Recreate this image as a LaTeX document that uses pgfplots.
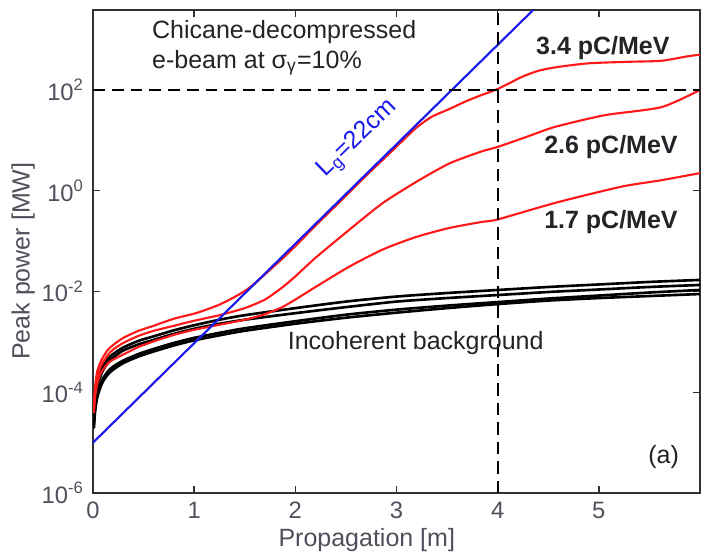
\documentclass[border=0pt]{standalone}
\usepackage{fontspec}
\setmainfont{Liberation Sans}
\usepackage{pgfplots}
\pgfplotsset{compat=1.18}

\definecolor{axisgray}{RGB}{50,50,50}
\definecolor{labelgray}{RGB}{80,80,92}
\definecolor{textdark}{RGB}{35,35,40}
\definecolor{curvered}{RGB}{255,25,25}
\definecolor{gainblue}{RGB}{25,25,235}

\begin{document}
\begin{tikzpicture}
\begin{axis}[
  scale only axis,
  width=242.8pt, height=193.2pt,
  at={(0,0)}, anchor=south west,
  xmin=0, xmax=6,
  ymode=log, ymin=1e-6, ymax=3870,
  xtick={0,1,2,3,4,5},
  ytick={1e-6,1e-4,1e-2,1,1e2},
  yticklabels={10\textsuperscript{-6},10\textsuperscript{-4},10\textsuperscript{-2},10\textsuperscript{0},10\textsuperscript{2}},
  yminorticks=false,
  /pgf/number format/assume math mode=true,
  tick align=inside,
  major tick length=2.8pt,
  axis line style={axisgray, line width=0.6pt},
  tick style={axisgray, line width=0.6pt},
  ticklabel style={labelgray, font=\fontsize{9.5}{11}\selectfont},
  label style={labelgray, font=\fontsize{10}{12}\selectfont},
  xlabel={Propagation [m]},
  ylabel={Peak power [MW]},
  xlabel style={at={(axis description cs:0.451,-0.097)}, anchor=center},
  ylabel style={at={(axis description cs:-0.115,0.48)}, anchor=center},
  every axis plot/.append style={line join=round, line cap=round},
  bg/.style={black, line width=1.05pt, smooth, tension=0.4},
  fel/.style={curvered, line width=0.85pt, smooth, tension=0.4},
]

% incoherent background (spontaneous emission)
\addplot[bg] coordinates {
(0.01,4.467e-5) (0.02,8.913e-5) (0.04,1.585e-4) (0.07,2.512e-4) (0.1,3.388e-4)
(0.15,4.677e-4) (0.2,5.754e-4) (0.3,7.762e-4) (0.45,1.047e-3) (0.6,1.288e-3)
(0.8,1.698e-3) (1.0,2.138e-3) (1.25,2.754e-3) (1.5,3.388e-3) (2.0,4.677e-3)
(2.5,6.310e-3) (3.0,7.943e-3) (3.5,9.333e-3) (4.0,1.072e-2) (4.5,1.230e-2)
(5.0,1.380e-2) (5.5,1.549e-2) (6.0,1.698e-2)};
\addplot[bg] coordinates {
(0.01,3.548e-5) (0.02,7.079e-5) (0.04,1.259e-4) (0.07,1.995e-4) (0.1,2.754e-4)
(0.15,3.890e-4) (0.2,4.898e-4) (0.3,6.761e-4) (0.45,8.913e-4) (0.6,1.096e-3)
(0.8,1.445e-3) (1.0,1.820e-3) (1.25,2.291e-3) (1.5,2.754e-3) (2.0,3.715e-3)
(2.5,4.898e-3) (3.0,6.310e-3) (3.5,7.413e-3) (4.0,8.511e-3) (4.5,9.772e-3)
(5.0,1.096e-2) (5.5,1.230e-2) (6.0,1.349e-2)};
\addplot[bg] coordinates {
(0.01,2.512e-5) (0.02,5.012e-5) (0.04,8.913e-5) (0.07,1.413e-4) (0.1,1.905e-4)
(0.15,2.630e-4) (0.2,3.236e-4) (0.3,4.266e-4) (0.45,5.754e-4) (0.6,7.244e-4)
(0.8,9.550e-4) (1.0,1.202e-3) (1.25,1.514e-3) (1.5,1.862e-3) (2.0,2.570e-3)
(2.5,3.467e-3) (3.0,4.365e-3) (3.5,5.248e-3) (4.0,6.166e-3) (4.5,7.244e-3)
(5.0,8.318e-3) (5.5,9.550e-3) (6.0,1.072e-2)};
\addplot[bg] coordinates {
(0.01,1.995e-5) (0.02,3.981e-5) (0.04,7.586e-5) (0.07,1.202e-4) (0.1,1.660e-4)
(0.15,2.291e-4) (0.2,2.818e-4) (0.3,3.802e-4) (0.45,5.129e-4) (0.6,6.457e-4)
(0.8,8.511e-4) (1.0,1.072e-3) (1.25,1.349e-3) (1.5,1.660e-3) (2.0,2.291e-3)
(2.5,3.020e-3) (3.0,3.802e-3) (3.5,4.677e-3) (4.0,5.623e-3) (4.5,6.607e-3)
(5.0,7.413e-3) (5.5,8.128e-3) (6.0,8.913e-3)};

% 3.4 pC/MeV
\addplot[fel] coordinates {
(0.01,6.310e-5) (0.02,1.259e-4) (0.04,2.512e-4) (0.07,3.802e-4) (0.1,5.012e-4)
(0.15,7.079e-4) (0.2,8.710e-4) (0.3,1.202e-3) (0.45,1.660e-3) (0.6,2.089e-3)
(0.8,2.884e-3) (1.0,3.631e-3) (1.12,4.365e-3) (1.25,5.495e-3) (1.38,7.413e-3)
(1.5,1.023e-2) (1.6,1.445e-2) (1.7,2.188e-2) (1.87,4.467e-2) (2.0,7.943e-2)
(2.2,2.042e-1) (2.46,6.607e-1) (2.7,1.995) (2.93,5.495) (3.19,17.38)
(3.35,29.51) (3.52,41.69) (3.68,58.88) (3.84,79.43) (4.0,104.7)
(4.24,182.0) (4.4,239.9) (4.57,281.8) (4.9,338.8) (5.3,363.1)
(5.62,380.2) (5.88,467.7) (6.0,501.2)};
% 2.6 pC/MeV
\addplot[fel] coordinates {
(0.01,5.012e-5) (0.02,1.0e-4) (0.04,1.905e-4) (0.07,3.020e-4) (0.1,3.981e-4)
(0.15,5.623e-4) (0.2,7.079e-4) (0.3,9.550e-4) (0.45,1.318e-3) (0.6,1.660e-3)
(0.8,2.089e-3) (1.0,2.630e-3) (1.25,3.388e-3) (1.5,4.677e-3) (1.7,6.918e-3)
(1.87,1.202e-2) (2.0,1.995e-2) (2.2,4.677e-2) (2.53,1.660e-1) (2.86,5.623e-1)
(3.19,1.479) (3.52,3.467) (3.84,6.026) (4.0,7.413) (4.3,12.02)
(4.57,18.62) (5.06,31.62) (5.62,45.71) (6.0,100)};
% 1.7 pC/MeV
\addplot[fel] coordinates {
(0.01,3.981e-5) (0.02,7.943e-5) (0.04,1.413e-4) (0.07,2.239e-4) (0.1,2.818e-4)
(0.15,3.802e-4) (0.2,4.467e-4) (0.3,5.623e-4) (0.45,7.943e-4) (0.6,1.023e-3)
(0.8,1.380e-3) (1.0,1.738e-3) (1.25,2.188e-3) (1.5,2.754e-3) (1.7,3.548e-3)
(1.87,4.898e-3) (2.0,6.918e-3) (2.2,1.230e-2) (2.53,3.090e-2) (2.86,6.761e-2)
(3.19,1.202e-1) (3.52,1.820e-1) (3.84,2.399e-1) (4.0,2.692e-1) (4.57,5.754e-1)
(5.22,1.202) (5.62,1.622) (6.0,2.239)};

% exponential gain, L_g = 22 cm
\addplot[gainblue, line width=0.85pt] coordinates {(0,1e-5) (4.6,1.202e4)};

% saturation level and reference position
\addplot[black, line width=0.7pt, dash pattern=on 4.7pt off 2.8pt, line cap=butt] coordinates {(0,100) (6,100)};
\addplot[black, line width=0.7pt, dash pattern=on 5pt off 2.8pt, line cap=butt] coordinates {(4,1e-6) (4,3870)};

% annotations
\node[anchor=west, textdark, inner sep=0pt] at (axis cs:0.58,1413) {Chicane-decompressed};
\node[anchor=west, textdark, inner sep=0pt] at (axis cs:0.58,347) {e-beam at σ\textsubscript{γ}=10\%};
\node[font=\bfseries, textdark] at (axis cs:5.04,676) {3.4 pC/MeV};
\node[font=\bfseries, textdark] at (axis cs:5.12,7.41) {2.6 pC/MeV};
\node[font=\bfseries, textdark] at (axis cs:5.12,0.24) {1.7 pC/MeV};
\node[textdark] at (axis cs:3.19,9.55e-4) {Incoherent background};
\node[textdark] at (axis cs:5.64,5.25e-6) {(a)};
\node[gainblue, rotate=44, inner sep=1pt] at (axis cs:2.62,10.5) {L\textsubscript{g}=22cm};
\end{axis}
\pgfresetboundingbox
\path[use as bounding box] (-37.2pt,-26pt) rectangle (243.2pt,197.2pt);
\end{tikzpicture}
\end{document}
